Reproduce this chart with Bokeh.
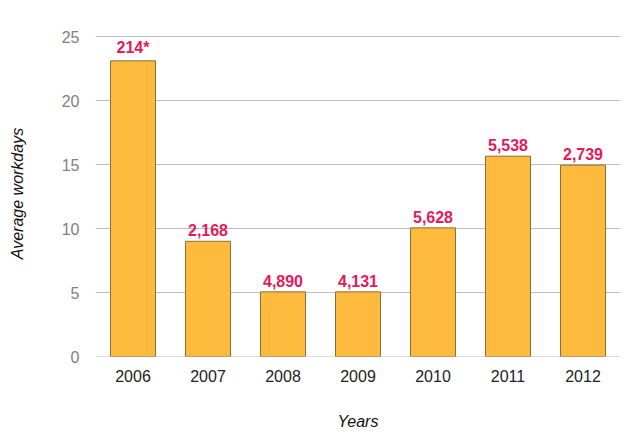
from bokeh.plotting import figure
from bokeh.models import ColumnDataSource, Range1d, FixedTicker
from bokeh.core.properties import value
from bokeh.embed import file_html
from bokeh.resources import INLINE

years = ["2006", "2007", "2008", "2009", "2010", "2011", "2012"]
avg_workdays = [23.1, 9.0, 5.05, 5.05, 10.05, 15.65, 14.95]
bar_labels = ["214*", "2,168", "4,890", "4,131", "5,628", "5,538", "2,739"]
y_ticks = [0, 5, 10, 15, 20, 25]

src = ColumnDataSource(dict(x=years, top=avg_workdays, lab=bar_labels))
grid_src = ColumnDataSource(dict(
    x0=[(years[0], -0.5)] * len(y_ticks),
    x1=[(years[-1], 0.5)] * len(y_ticks),
    y=y_ticks,
))

p = figure(width=638, height=447, x_range=years, y_range=Range1d(0, 25.46875),
           output_backend="svg", toolbar_location=None,
           min_border_left=95, min_border_right=18, min_border_top=30, min_border_bottom=91)
p.outline_line_color = None

p.segment(x0="x0", y0="y", x1="x1", y1="y", source=grid_src,
          line_color="#bdbdbd", line_width=1)

p.vbar(x="x", top="top", width=0.6, source=src, fill_color="#fdba3c",
       line_color="#8c6d35", line_width=1)
p.text(x="x", y="top", text="lab", source=src, text_align="center",
       text_baseline="bottom", y_offset=-5, text_font=value("Liberation Sans"),
       text_font_style="bold", text_font_size="16px", text_color="#e6195a")

p.xgrid.grid_line_color = None
p.ygrid.grid_line_color = None
p.yaxis.ticker = FixedTicker(ticks=y_ticks)

for ax in (p.xaxis[0], p.yaxis[0]):
    ax.axis_line_color = None
    ax.major_tick_line_color = None
    ax.minor_tick_line_color = None
    ax.major_label_text_font = "Liberation Sans"
    ax.major_label_text_font_size = "16px"
    ax.axis_label_text_font = "Liberation Sans"
    ax.axis_label_text_font_size = "16px"
    ax.axis_label_text_font_style = "italic"
    ax.axis_label_text_color = "#111111"

p.yaxis.major_label_text_color = "#808080"
p.yaxis.major_label_standoff = 10
p.yaxis.axis_label = "Average workdays"
p.yaxis.axis_label_standoff = 33
p.xaxis.major_label_text_color = "#222222"
p.xaxis.major_label_standoff = 7
p.xaxis.axis_label = "Years"
p.xaxis.axis_label_standoff = 28

open("out.html", "w").write(file_html(p, INLINE))
